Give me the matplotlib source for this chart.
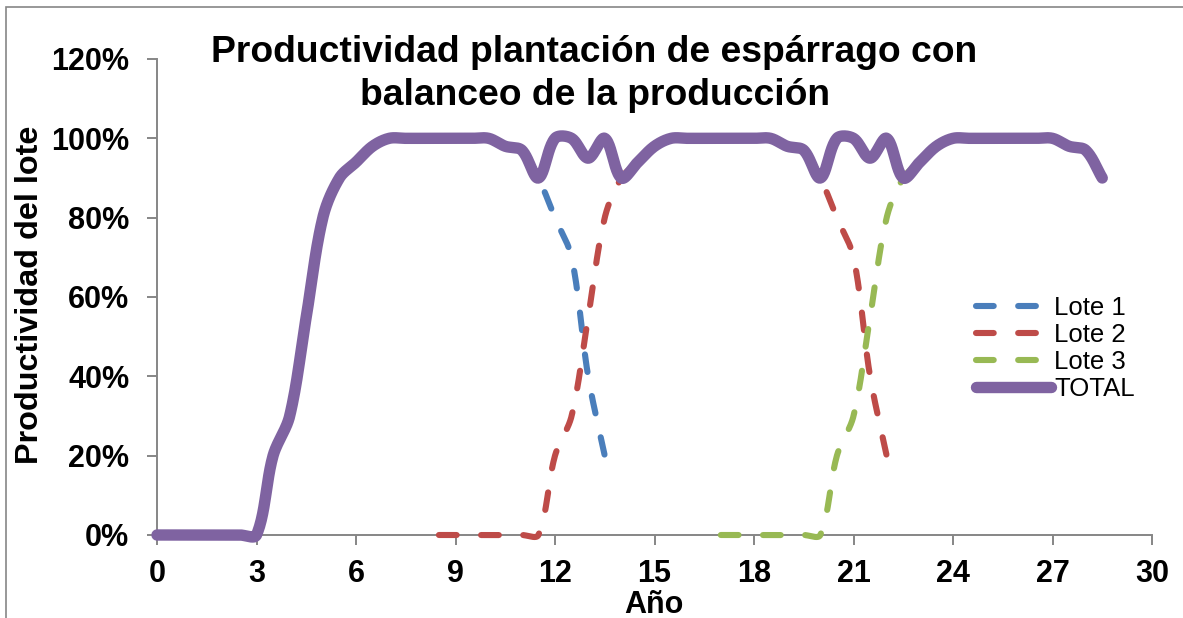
import numpy as np
import matplotlib
matplotlib.use("Agg")
import matplotlib.pyplot as plt
from matplotlib.patches import Rectangle
from matplotlib.ticker import FuncFormatter

plt.rcParams['font.family'] = ['Liberation Sans', 'DejaVu Sans']

# Half-year steps for every series
step = 0.5

# Productivity of each lot (%), starting from its planting year
lote1_start = 0.0
lote1 = [0, 0, 0, 0, 0, 0, 0, 20, 30, 55, 80, 90, 94, 98,
         100, 100, 100, 100, 100, 100, 100, 98, 97, 90, 80, 70, 40, 20]

lote2_start = 8.5
lote2 = [0, 0, 0, 0, 0, 0, 0, 20, 30, 55, 80, 90, 94, 98,
         100, 100, 100, 100, 100, 100, 100, 98, 97, 90, 80, 70, 40, 20]

lote3_start = 17.0
lote3 = [0, 0, 0, 0, 0, 0, 0, 20, 30, 55, 80, 90, 94, 98,
         100, 100, 100, 100, 100, 100, 100, 98, 97, 90]

total_start = 0.0
total = [0, 0, 0, 0, 0, 0, 0, 20, 30, 55, 80, 90, 94, 98,
         100, 100, 100, 100, 100, 100, 100, 98, 97, 90, 100, 100, 95, 100,
         90, 94, 98, 100, 100, 100, 100, 100, 100, 100, 98, 97,
         90, 100, 100, 95, 100, 90, 94, 98, 100, 100, 100, 100, 100, 100, 100,
         98, 97, 90]

series_names = ["Lote 1", "Lote 2", "Lote 3", "TOTAL"]
series_colors = ["#4A7EBB", "#BE4B48", "#98B954", "#7F63A1"]

x_ticks = list(range(0, 31, 3))
y_ticks = [0, 20, 40, 60, 80, 100, 120]


def smooth(ax, xs, ys, n=24):
    """Smoothed line through the points: cubic Bezier segments whose control
    arms follow the neighbouring points, weighted by on-screen segment length."""
    pts = ax.transData.transform(np.column_stack([xs, ys]).astype(float))
    P = np.vstack([pts[:1], pts, pts[-1:]])
    t = np.linspace(0, 1, n + 1)[1:, None]
    out = [pts[:1]]
    for i in range(1, len(P) - 2):
        p0, p1, p2, p3 = P[i - 1], P[i], P[i + 1], P[i + 2]
        d01 = np.hypot(*(p1 - p0))
        d12 = np.hypot(*(p2 - p1))
        d23 = np.hypot(*(p3 - p2))
        f1 = d12 / (d01 + d12) / 3 if d01 + d12 > 0 else 0
        f2 = d12 / (d12 + d23) / 3 if d12 + d23 > 0 else 0
        c1 = p1 + (p2 - p0) * f1
        c2 = p2 - (p3 - p1) * f2
        seg = ((1 - t) ** 3) * p1 + 3 * (1 - t) ** 2 * t * c1 \
            + 3 * (1 - t) * t ** 2 * c2 + t ** 3 * p2
        out.append(seg)
    curve = ax.transData.inverted().transform(np.vstack(out))
    return curve[:, 0], curve[:, 1]


fig = plt.figure(figsize=(11.83, 6.18), dpi=100)
W, H = 1183, 618
ax = fig.add_axes([157 / W, 1 - 535 / H, (1152 - 157) / W, (535 - 59) / H])
ax.set_xlim(0, 30)
ax.set_ylim(0, 120)

data = [(lote1_start, lote1), (lote2_start, lote2), (lote3_start, lote3), (total_start, total)]
for (start, vals), name, color in zip(data, series_names, series_colors):
    xs = start + step * np.arange(len(vals))
    sx, sy = smooth(ax, xs, vals)
    if name == "TOTAL":
        ax.plot(sx, sy, color=color, lw=8.2, solid_capstyle='round',
                solid_joinstyle='round', label=name, clip_on=False, zorder=4)
    else:
        ln, = ax.plot(sx, sy, color=color, lw=4.4, dash_capstyle='round',
                      label=name, clip_on=False, zorder=3)
        ln.set_dashes((2.9, 4.0))

ax.set_xticks(x_ticks)
ax.set_yticks(y_ticks)
ax.yaxis.set_major_formatter(FuncFormatter(lambda v, p: f"{v:.0f}%"))

axis_gray = "#868686"
for side in ("top", "right"):
    ax.spines[side].set_visible(False)
for side in ("left", "bottom"):
    ax.spines[side].set_color(axis_gray)
    ax.spines[side].set_linewidth(1.4)
ax.tick_params(axis='both', direction='out', length=7, width=1.4, color=axis_gray,
               labelsize=22)
ax.tick_params(axis='x', pad=10)
ax.tick_params(axis='y', pad=13)
for lbl in ax.get_xticklabels() + ax.get_yticklabels():
    lbl.set_fontweight('bold')

fig.text(594 / W, 1 - 62 / H, "Productividad plantación de espárrago con",
         ha='center', va='baseline', fontsize=26.8, fontweight='bold')
fig.text(595 / W, 1 - 105 / H, "balanceo de la producción",
         ha='center', va='baseline', fontsize=26.8, fontweight='bold')
fig.text(30 / W, 1 - 295 / H, "Productividad del lote", rotation=90,
         ha='center', va='center', fontsize=23.3, fontweight='bold')
fig.text(654 / W, 1 - 613 / H, "Año", ha='center', va='baseline',
         fontsize=22, fontweight='bold')

ax.legend(loc='upper left',
          bbox_to_anchor=((976 - 157) / (1152 - 157), (536 - 297) / (535 - 59)),
          frameon=False, fontsize=18.5, handlelength=2.9, handletextpad=0.15,
          labelspacing=0.12, borderaxespad=0, borderpad=0)

fig.patches.append(Rectangle((6 / W, -0.1), 1.2, 1 - 7 / H + 0.1, transform=fig.transFigure,
                             fill=False, edgecolor=axis_gray, lw=1.2))

fig.savefig("out.png", dpi=100)
